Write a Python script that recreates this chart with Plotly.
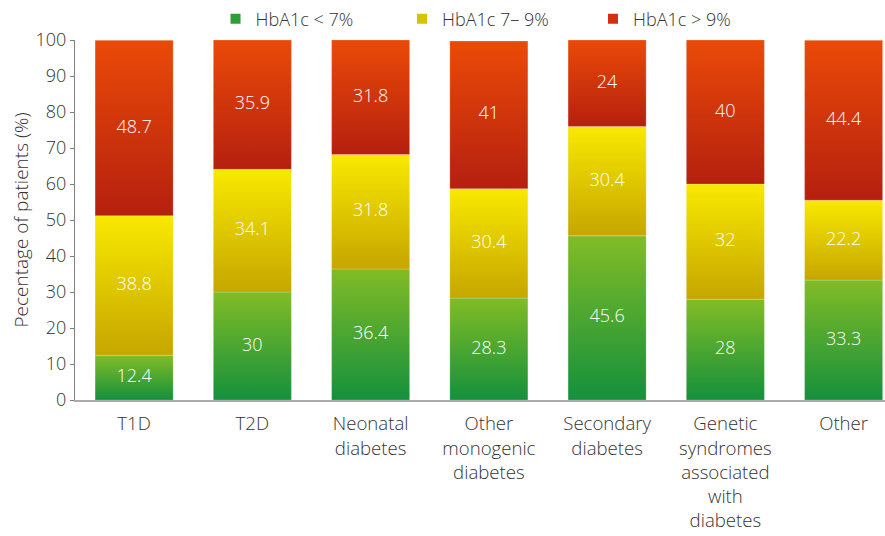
import plotly.graph_objects as go

# Diabetes categories (axis labels, line-broken as shown)
categories = [
    "T1D",
    "T2D",
    "Neonatal<br>diabetes",
    "Other<br>monogenic<br>diabetes",
    "Secondary<br>diabetes",
    "Genetic<br>syndromes<br>associated<br>with<br>diabetes",
    "Other",
]

# Share of patients (%) in each HbA1c band
hba1c_below_7 = [12.4, 30, 36.4, 28.3, 45.6, 28, 33.3]
hba1c_7_to_9 = [38.8, 34.1, 31.8, 30.4, 30.4, 32, 22.2]
hba1c_above_9 = [48.7, 35.9, 31.8, 41, 24, 40, 44.4]

series_names = ["HbA1c < 7%", "HbA1c 7– 9%", "HbA1c > 9%"]
y_ticks = [0, 10, 20, 30, 40, 50, 60, 70, 80, 90, 100]

# (bottom colour, top colour, legend swatch colour) per band
band_styles = [
    ("#14903c", "#82bc26", "#2f9e35"),
    ("#c6a600", "#f8e900", "#d8c300"),
    ("#b5200f", "#ea4a08", "#d2300e"),
]

FONT = "Open Sans"
WEIGHT = 300
BAR_WIDTH = 0.66

fig = go.Figure()

bands = [hba1c_below_7, hba1c_7_to_9, hba1c_above_9]
bases = [0.0] * len(categories)
label_x, label_y, label_text = [], [], []

for band, (bottom_c, top_c, _) in zip(bands, band_styles):
    for i, v in enumerate(band):
        y0 = bases[i]
        y1 = y0 + v
        x0 = i - BAR_WIDTH / 2
        x1 = i + BAR_WIDTH / 2
        fig.add_trace(
            go.Scatter(
                x=[x0, x1, x1, x0, x0],
                y=[y0, y0, y1, y1, y0],
                mode="lines",
                line=dict(width=0.6, color="rgba(255,255,255,0.35)"),
                fill="toself",
                fillgradient=dict(
                    type="vertical",
                    colorscale=[[0, bottom_c], [1, top_c]],
                    start=y0,
                    stop=y1,
                ),
                showlegend=False,
                hoverinfo="skip",
            )
        )
        label_x.append(i)
        label_y.append(y0 + v / 2)
        label_text.append(f"{v:g}")
        bases[i] = y1

# Value labels centred in each segment
fig.add_trace(
    go.Scatter(
        x=label_x,
        y=label_y,
        mode="text",
        text=label_text,
        textfont=dict(family=FONT, size=18, color="white", weight=WEIGHT),
        showlegend=False,
        hoverinfo="skip",
    )
)

# One legend per band so each entry sits at its own position
legend_ids = ["legend", "legend2", "legend3"]
legend_x = [0.1735, 0.4037, 0.6395]
for name, (_, _, swatch), lid in zip(series_names, band_styles, legend_ids):
    fig.add_trace(
        go.Scatter(
            x=[None],
            y=[None],
            mode="markers",
            marker=dict(symbol="square", size=10, color=swatch),
            name=name,
            legend=lid,
        )
    )

legend_common = dict(
    orientation="h",
    y=1.058,
    xanchor="left",
    yanchor="middle",
    font=dict(family=FONT, size=18, color="#333333", weight=WEIGHT),
    itemclick=False,
    itemdoubleclick=False,
    bgcolor="rgba(0,0,0,0)",
)

fig.update_layout(
    width=885,
    height=536,
    margin=dict(l=75, r=0, t=40, b=136),
    paper_bgcolor="white",
    plot_bgcolor="white",
    font=dict(family=FONT, size=18, color="#333333", weight=WEIGHT),
    legend=dict(x=legend_x[0], **legend_common),
    legend2=dict(x=legend_x[1], **legend_common),
    legend3=dict(x=legend_x[2], **legend_common),
    xaxis=dict(
        range=[-0.5, 6.35],
        tickmode="array",
        tickvals=list(range(len(categories))),
        ticktext=categories,
        showgrid=False,
        zeroline=False,
        showline=True,
        linecolor="#aaaaaa",
        linewidth=2,
        ticks="",
        ticklabelstandoff=6,
        tickfont=dict(family=FONT, size=18.6, color="#333333", weight=WEIGHT),
    ),
    yaxis=dict(
        range=[0, 100],
        tickmode="array",
        tickvals=y_ticks,
        showgrid=False,
        zeroline=False,
        showline=True,
        linecolor="#7f7f7f",
        linewidth=1,
        ticks="outside",
        ticklen=4,
        tickcolor="#7f7f7f",
        tickfont=dict(family=FONT, size=18, color="#333333", weight=WEIGHT),
        title=dict(
            text="Pecentage of patients (%)",
            font=dict(family=FONT, size=19, color="#333333", weight=WEIGHT),
            standoff=1,
        ),
    ),
)

fig.write_html("out.html")
